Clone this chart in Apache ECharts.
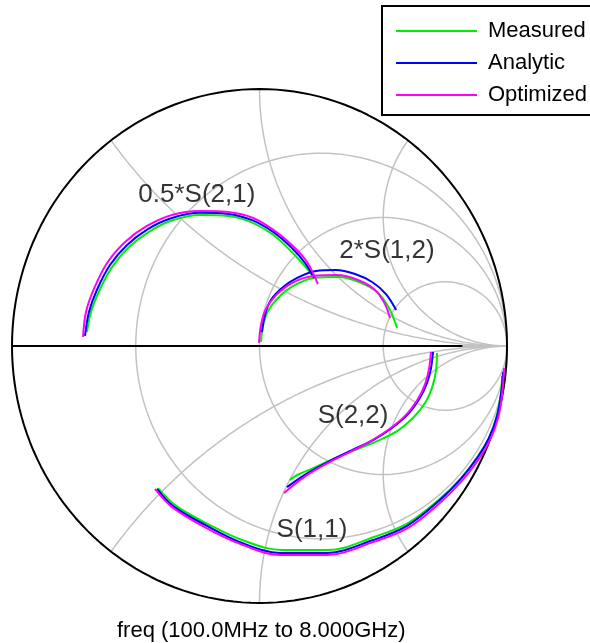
<!DOCTYPE html>
<html>
<head>
<meta charset="utf-8">
<script src="https://cdn.jsdelivr.net/npm/echarts@6.0.0/dist/echarts.min.js"></script>
<style>html,body{margin:0;padding:0;background:#fff}#chart{width:590px;height:643px}</style>
</head>
<body>
<div id="chart"></div>
<script>
// Reflection / transmission coefficients as [real, imag], freq 100 MHz .. 8 GHz
const s21Measured = [[-0.697,0.054],[-0.681,0.132],[-0.648,0.214],[-0.596,0.307],[-0.527,0.385],[-0.442,0.447],[-0.349,0.490],[-0.240,0.510],[-0.127,0.506],[-0.034,0.482],[0.051,0.436],[0.119,0.377],[0.176,0.319],[0.216,0.272]];
const s21Analytic = [[-0.705,0.039],[-0.689,0.132],[-0.657,0.218],[-0.604,0.315],[-0.535,0.393],[-0.451,0.455],[-0.354,0.498],[-0.240,0.518],[-0.127,0.514],[-0.030,0.490],[0.055,0.444],[0.127,0.385],[0.184,0.323],[0.220,0.265]];
const s21Optimized = [[-0.713,0.035],[-0.701,0.132],[-0.669,0.222],[-0.616,0.323],[-0.543,0.405],[-0.455,0.467],[-0.354,0.510],[-0.240,0.525],[-0.127,0.521],[-0.026,0.498],[0.063,0.447],[0.135,0.389],[0.192,0.327],[0.236,0.241]];

const s12Measured = [[0.006,0.016],[0.014,0.078],[0.034,0.136],[0.075,0.187],[0.135,0.233],[0.220,0.265],[0.317,0.268],[0.402,0.249],[0.475,0.210],[0.523,0.148],[0.556,0.070]];
const s12Analytic = [[0.010,0.054],[0.022,0.121],[0.046,0.179],[0.091,0.226],[0.152,0.265],[0.228,0.292],[0.309,0.296],[0.386,0.280],[0.455,0.249],[0.511,0.202],[0.552,0.140]];
const s12Optimized = [[-0.002,0.012],[0.006,0.082],[0.026,0.144],[0.067,0.198],[0.131,0.245],[0.216,0.272],[0.313,0.276],[0.398,0.257],[0.467,0.218],[0.507,0.163],[0.527,0.109]];

const s22Measured = [[0.717,-0.027],[0.713,-0.097],[0.697,-0.163],[0.669,-0.222],[0.620,-0.280],[0.556,-0.331],[0.475,-0.370],[0.386,-0.405],[0.297,-0.440],[0.208,-0.479],[0.152,-0.502],[0.123,-0.521]];
const s22Analytic = [[0.701,-0.023],[0.693,-0.086],[0.677,-0.144],[0.648,-0.202],[0.600,-0.265],[0.535,-0.319],[0.459,-0.366],[0.374,-0.405],[0.285,-0.447],[0.196,-0.494],[0.111,-0.549]];
const s22Optimized = [[0.693,-0.023],[0.685,-0.089],[0.669,-0.148],[0.640,-0.206],[0.588,-0.272],[0.519,-0.327],[0.442,-0.374],[0.358,-0.416],[0.269,-0.459],[0.180,-0.510],[0.099,-0.572]];

const s11Measured = [[-0.410,-0.553],[-0.341,-0.619],[-0.208,-0.693],[-0.071,-0.755],[0.091,-0.794],[0.277,-0.794],[0.463,-0.743],[0.600,-0.689],[0.733,-0.591],[0.814,-0.514],[0.883,-0.428],[0.931,-0.350],[0.960,-0.265],[0.976,-0.179],[0.980,-0.117]];
const s11Analytic = [[-0.414,-0.556],[-0.349,-0.623],[-0.212,-0.700],[-0.079,-0.763],[0.083,-0.805],[0.273,-0.805],[0.459,-0.755],[0.596,-0.700],[0.729,-0.599],[0.810,-0.521],[0.879,-0.436],[0.927,-0.358],[0.960,-0.272],[0.976,-0.187],[0.984,-0.101]];
const s11Optimized = [[-0.422,-0.556],[-0.354,-0.626],[-0.216,-0.708],[-0.079,-0.770],[0.083,-0.813],[0.273,-0.813],[0.459,-0.763],[0.600,-0.708],[0.733,-0.607],[0.814,-0.529],[0.883,-0.444],[0.931,-0.366],[0.964,-0.280],[0.980,-0.191],[0.988,-0.086]];

// Smith chart grid: normalized resistance circles and reactance arcs
const resistanceCircles = [1/3, 1, 3];
const reactanceArcs = [0.5, 1, 2, -0.5, -1, -2];

// Trace names and their label anchors in the reflection plane
const traceLabels = ['0.5*S(2,1)', '2*S(1,2)', 'S(2,2)', 'S(1,1)'];
const traceLabelAnchors = [[-0.253, 0.588], [0.515, 0.370], [0.378, -0.272], [0.212, -0.716]];

const legendNames = ['Measured', 'Analytic', 'Optimized'];
const freqCaption = 'freq (100.0MHz to 8.000GHz)';

const FONT = '"Liberation Sans", Arial, sans-serif';
const GRID_GRAY = '#c2c2c2';

function circlePoints(cx, cy, rad) {
  const pts = [];
  for (let i = 0; i <= 360; i += 2) {
    const a = i * Math.PI / 180;
    pts.push([cx + rad * Math.cos(a), cy + rad * Math.sin(a)]);
  }
  return pts;
}

function reactancePoints(x) {
  const pts = [];
  const n = 240;
  for (let i = 0; i < n; i++) {
    const r = Math.tan((i / n) * Math.PI / 2);
    const den = (r + 1) * (r + 1) + x * x;
    pts.push([(r * r + x * x - 1) / den, (2 * x) / den]);
  }
  pts.push([1, 0]);
  return pts;
}

function gridLine(data, color, width) {
  return {
    type: 'line', data: data, showSymbol: false, symbol: 'none', silent: true,
    lineStyle: { color: color, width: width }, z: 1, clip: false
  };
}

const series = [];
resistanceCircles.forEach(r => series.push(gridLine(circlePoints(r / (1 + r), 0, 1 / (1 + r)), GRID_GRAY, 1.5)));
reactanceArcs.forEach(x => series.push(gridLine(reactancePoints(x), GRID_GRAY, 1.5)));
series.push(gridLine([[0.82, 0], [1, 0]], GRID_GRAY, 2));
series.push(gridLine([[-1, 0], [0.82, 0]], '#000', 2));
series.push(gridLine(circlePoints(0, 0, 1), '#000', 2));

const traceColors = { Measured: '#00ee00', Analytic: '#0000ff', Optimized: '#ff00ff' };
const traces = [
  ['Measured', [s21Measured, s12Measured, s22Measured, s11Measured]],
  ['Analytic', [s21Analytic, s12Analytic, s22Analytic, s11Analytic]],
  ['Optimized', [s21Optimized, s12Optimized, s22Optimized, s11Optimized]]
];
traces.forEach(([name, sets]) => {
  sets.forEach(d => series.push({
    type: 'line', name: name, data: d, smooth: 0.35, showSymbol: false, symbol: 'none',
    lineStyle: { color: traceColors[name], width: 2 }, itemStyle: { color: traceColors[name] }, z: 3
  }));
});

series.push({
  type: 'scatter', silent: true, symbolSize: 0, z: 5,
  data: traceLabels.map((t, i) => ({ name: t, value: traceLabelAnchors[i] })),
  label: { show: true, position: 'inside', formatter: '{b}', fontSize: 26, color: '#000', fontFamily: FONT }
});

const chart = echarts.init(document.getElementById('chart'), null, { renderer: 'canvas' });
chart.setOption({
  animation: false,
  backgroundColor: '#fff',
  grid: { left: 12, top: 89, width: 495, height: 514 },
  xAxis: { type: 'value', min: -1, max: 1, show: false },
  yAxis: { type: 'value', min: -1, max: 1, show: false },
  legend: {
    data: legendNames, orient: 'vertical', left: 396, top: 20, padding: 0,
    icon: 'rect', itemWidth: 81, itemHeight: 2, itemGap: 10, selectedMode: false,
    textStyle: { fontSize: 22, lineHeight: 22, color: '#000', fontFamily: FONT, padding: [0, 0, 0, 6] }
  },
  title: {
    text: freqCaption, left: 117, top: 620, padding: 0,
    textStyle: { fontSize: 22, fontWeight: 'normal', color: '#000', fontFamily: FONT }
  },
  graphic: [{
    type: 'rect', shape: { x: 382, y: 6, width: 230, height: 109 },
    style: { fill: 'none', stroke: '#000', lineWidth: 2 }, z: 10
  }],
  series: series
});
</script>
</body>
</html>
